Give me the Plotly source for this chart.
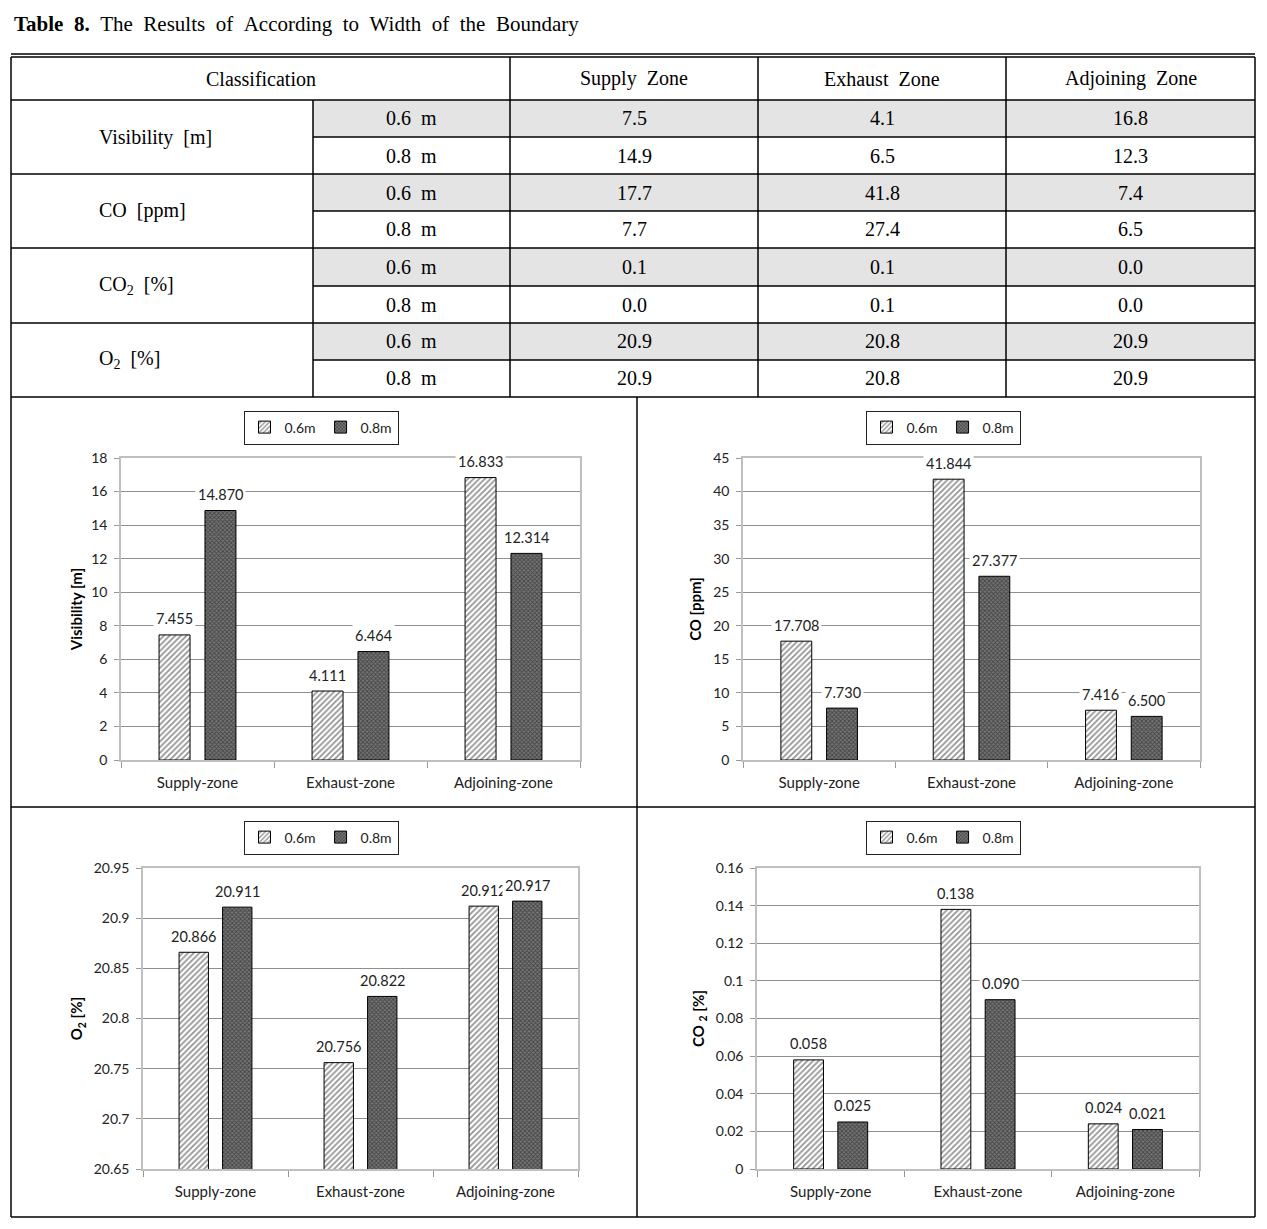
import plotly.graph_objects as go

# ---------------- data ----------------
table_title_bold = "Table 8."
table_title_rest = "The Results of According to Width of the Boundary"
table_header = ["Classification", "Supply Zone", "Exhaust Zone", "Adjoining Zone"]
table_groups = ["Visibility [m]", "CO [ppm]", "CO<sub>2</sub> [%]", "O<sub>2</sub> [%]"]
table_heights = ["0.6 m", "0.8 m"]
table_vis = [["7.5", "4.1", "16.8"], ["14.9", "6.5", "12.3"]]
table_co = [["17.7", "41.8", "7.4"], ["7.7", "27.4", "6.5"]]
table_co2 = [["0.1", "0.1", "0.0"], ["0.0", "0.1", "0.0"]]
table_o2 = [["20.9", "20.8", "20.9"], ["20.9", "20.8", "20.9"]]

zones = ["Supply-zone", "Exhaust-zone", "Adjoining-zone"]
series_names = ["0.6m", "0.8m"]
vis_06 = [7.455, 4.111, 16.833]
vis_08 = [14.870, 6.464, 12.314]
co_06 = [17.708, 41.844, 7.416]
co_08 = [7.730, 27.377, 6.500]
o2_06 = [20.866, 20.756, 20.912]
o2_08 = [20.911, 20.822, 20.917]
co2_06 = [0.058, 0.138, 0.024]
co2_08 = [0.025, 0.090, 0.021]

# ---------------- helpers ----------------
# page body has an 8px margin: the figure is sized to fit the window exactly
OFF = 8
W, H = 1267 - OFF, 1229 - OFF
def px(x):
    return (x - OFF) / W
def py(y):
    return 1 - (y - OFF) / H
def wide(s):
    return s.replace(" ", " \u00a0")

SERIF = "Liberation Serif"
SANS = "Lato"
BARGAP = 0.4
BARGROUPGAP = 0.325

fig = go.Figure()
shapes = []
annotations = []

# ---------------- table ----------------
annotations.append(dict(
    x=px(12), y=py(24), xref="paper", yref="paper", xanchor="left", yanchor="middle",
    text="<b>" + wide(table_title_bold) + "</b> \u00a0" + wide(table_title_rest),
    showarrow=False, font=dict(family=SERIF, size=21, color="black")))

row_lines = [100, 137, 174, 211, 248, 286, 323, 360, 397]

# shaded rows
for k in range(0, 8, 2):
    shapes.append(dict(type="rect", xref="paper", yref="paper",
                       x0=px(313), x1=px(1255), y0=py(row_lines[k]), y1=py(row_lines[k + 1]),
                       fillcolor="#e4e4e4", line=dict(width=0), layer="below"))

def hline(y, x0, x1, w=1.5):
    shapes.append(dict(type="line", xref="paper", yref="paper", x0=px(x0), x1=px(x1),
                       y0=py(y), y1=py(y), line=dict(color="black", width=w)))
def vline(x, y0, y1, w=1.5):
    shapes.append(dict(type="line", xref="paper", yref="paper", x0=px(x), x1=px(x),
                       y0=py(y0), y1=py(y1), line=dict(color="black", width=w)))

hline(54, 11, 1255, 1.5)
for y in [57, 100, 174, 248, 323, 397, 807, 1217]:
    hline(y, 11, 1255)
for y in [137, 211, 286, 360]:
    hline(y, 313, 1255)
vline(11, 57, 1217)
vline(1255, 57, 1217)
for x in [510, 758, 1006]:
    vline(x, 57, 397)
vline(313, 100, 397)
vline(637, 397, 1217)

# header texts
hdr_x = [(11 + 510) / 2, (510 + 758) / 2, (758 + 1006) / 2, (1006 + 1255) / 2]
for t, x in zip(table_header, hdr_x):
    annotations.append(dict(x=px(x), y=py(79), xref="paper", yref="paper", text=wide(t),
                            showarrow=False, xanchor="center", yanchor="middle",
                            font=dict(family=SERIF, size=20, color="black")))

table_blocks = [table_vis, table_co, table_co2, table_o2]
val_x = [(510 + 758) / 2, (758 + 1006) / 2, (1006 + 1255) / 2]
for g, (name, block) in enumerate(zip(table_groups, table_blocks)):
    y_mid = (row_lines[2 * g] + row_lines[2 * g + 2]) / 2
    annotations.append(dict(x=px(97), y=py(y_mid), xref="paper", yref="paper", text=wide(name),
                            showarrow=False, xanchor="left", yanchor="middle",
                            font=dict(family=SERIF, size=20, color="black")))
    for r in range(2):
        yc = (row_lines[2 * g + r] + row_lines[2 * g + r + 1]) / 2
        annotations.append(dict(x=px((313 + 510) / 2), y=py(yc), xref="paper", yref="paper",
                                text=wide(table_heights[r]), showarrow=False,
                                xanchor="center", yanchor="middle",
                                font=dict(family=SERIF, size=20, color="black")))
        for c in range(3):
            annotations.append(dict(x=px(val_x[c]), y=py(yc), xref="paper", yref="paper",
                                    text=block[r][c], showarrow=False,
                                    xanchor="center", yanchor="middle",
                                    font=dict(family=SERIF, size=20, color="black")))

# ---------------- charts ----------------
pat06 = dict(shape="/", fgcolor="#2a2a2a", bgcolor="white", size=4, solidity=0.45)
pat08 = dict(shape="x", fgcolor="#111111", bgcolor="#777777", size=3, solidity=0.5)

charts = [
    dict(v06=vis_06, v08=vis_08, title="<b>Visibility [m]</b>", rng=[0, 18], dtick=2,
         xd=(121, 580), yd=(458, 760), leg=(321, 427.5), so=5),
    dict(v06=co_06, v08=co_08, title="<b>CO [ppm]</b>", rng=[0, 45], dtick=5,
         xd=(743, 1200), yd=(458, 760), leg=(943, 427.5), so=8),
    dict(v06=o2_06, v08=o2_08, title="<b>O<sub>2</sub> [%]</b>", rng=[20.65, 20.95], dtick=0.05,
         xd=(143, 578), yd=(868, 1169), leg=(321, 837.5), so=7),
    dict(v06=co2_06, v08=co2_08, title="<b>CO <sub>2</sub> [%]</b>", rng=[0, 0.16], dtick=0.02,
         xd=(757, 1199), yd=(868, 1169), leg=(943, 837.5), so=8),
]

slot = (1 - BARGAP) / 2
offsets = [-slot / 2, slot / 2]
layout_axes = {}
for i, ch in enumerate(charts):
    n = "" if i == 0 else str(i + 1)
    xa, ya = "x" + n, "y" + n
    leg = "legend" + n
    for s, (vals, pat) in enumerate([(ch["v06"], pat06), (ch["v08"], pat08)]):
        fig.add_trace(go.Bar(
            x=[0, 1, 2], y=vals, name=series_names[s], xaxis=xa, yaxis=ya, legend=leg,
            marker=dict(color="white" if s == 0 else "#777777", pattern=pat,
                        line=dict(color="black", width=1)),
            hoverinfo="y"))
        for k, v in enumerate(vals):
            annotations.append(dict(
                x=k + offsets[s], y=v, xref=xa, yref=ya, text=f"{v:.3f}", showarrow=False,
                xanchor="center", yanchor="middle", yshift=16, bgcolor="white", borderpad=2,
                font=dict(family=SANS, size=14.5, color="#222222")))
    layout_axes["xaxis" + n] = dict(
        domain=[px(ch["xd"][0]), px(ch["xd"][1])], anchor=ya, range=[-0.5, 2.5],
        tickmode="array", tickvals=[0, 1, 2], ticktext=zones,
        ticks="outside", ticklen=8, tickcolor="rgba(0,0,0,0)",
        showgrid=False, zeroline=False, showline=True, linecolor="#bfbfbf", linewidth=1.5,
        mirror=True, automargin=False, tickfont=dict(family=SANS, size=15, color="#222222"),
        minor=dict(tickmode="array", tickvals=[-0.5, 0.5, 1.5, 2.5], ticks="outside",
                   ticklen=6, tickcolor="#999999", showgrid=False),
        fixedrange=True)
    layout_axes["yaxis" + n] = dict(
        domain=[py(ch["yd"][1]), py(ch["yd"][0])], anchor=xa, range=ch["rng"],
        tick0=ch["rng"][0], dtick=ch["dtick"], ticks="outside", ticklen=5, tickcolor="#999999",
        showgrid=True, gridcolor="#8f8f8f", gridwidth=1, zeroline=False,
        showline=True, linecolor="#bfbfbf", linewidth=1.5, mirror=True,
        ticklabelstandoff=4, automargin=False,
        tickfont=dict(family=SANS, size=14, color="#222222"),
        title=dict(text=ch["title"], standoff=ch["so"], font=dict(family=SANS, size=15, color="black")),
        fixedrange=True)
    layout_axes[leg] = dict(
        x=px(ch["leg"][0]), y=py(ch["leg"][1]), xanchor="center", yanchor="middle",
        xref="paper", yref="paper", orientation="h", bgcolor="white",
        bordercolor="#222222", borderwidth=1, itemwidth=30, tracegroupgap=0,
        font=dict(family=SANS, size=14, color="#222222"))

fig.update_layout(
    width=W, height=H, autosize=False,
    margin=dict(l=0, r=0, t=0, b=0, pad=0, autoexpand=False),
    paper_bgcolor="white", plot_bgcolor="white",
    barmode="group", bargap=BARGAP, bargroupgap=BARGROUPGAP,
    showlegend=True, shapes=shapes, annotations=annotations,
    **layout_axes)

fig.write_html("out.html")
